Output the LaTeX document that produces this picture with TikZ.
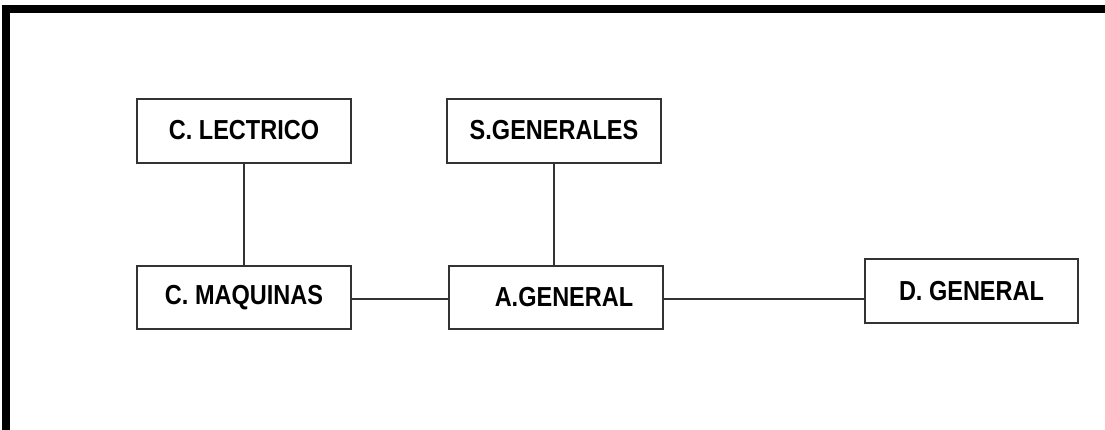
\documentclass[tikz,border=0pt]{standalone}
\usepackage{fontspec}
\setmainfont[FakeStretch=0.855]{Liberation Sans}
\begin{document}
\begin{tikzpicture}[x=1pt,y=-1pt,
  orgbox/.style={draw=black!80, line width=1.6pt, rectangle, inner sep=0pt,
    font=\fontsize{27.5}{31}\selectfont\bfseries, text=black},
  link/.style={draw=black!80, line width=1.5pt}]
\useasboundingbox (0,0) rectangle (1105,430);
% frame (top and left only)
\fill[black] (2,5) rectangle (1105,13);
\fill[black] (2,5) rectangle (10,430);
% boxes
\node[orgbox, minimum width=214pt, minimum height=64pt] (lec) at (244,131) {\raisebox{2pt}{C. LECTRICO}};
\node[orgbox, minimum width=214pt, minimum height=63pt] (maq) at (244,297.5) {\raisebox{1pt}{C. MAQUINAS}};
\node[orgbox, minimum width=214pt, minimum height=64pt] (sg) at (554,131) {\raisebox{2pt}{S.GENERALES}};
\node[orgbox, minimum width=214pt, minimum height=63pt] (ag) at (556,297.5) {\hspace{16pt}A.GENERAL};
\node[orgbox, minimum width=213pt, minimum height=64pt] (dg) at (971.5,291) {D. GENERAL};
% connectors
\draw[link] (lec.south) -- (maq.north);
\draw[link] (sg.south) -- (sg.south |- ag.north);
\draw[link] (maq.east |- 0,299) -- (ag.west |- 0,299);
\draw[link] (ag.east |- 0,299) -- (dg.west |- 0,299);
\end{tikzpicture}
\end{document}
